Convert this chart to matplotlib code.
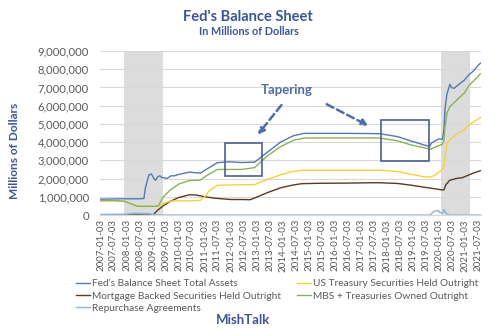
import pandas as pd
import matplotlib
matplotlib.use("Agg")
import matplotlib.pyplot as plt
import matplotlib.dates as mdates
from matplotlib.patches import Rectangle
from matplotlib.ticker import FuncFormatter, MultipleLocator

plt.rcParams['font.family'] = ['Lato', 'DejaVu Sans']

# Weekly H.4.1 series, sampled at turning points (millions of dollars)
total_dates = ["2007-01-03", "2007-07-04", "2007-12-05", "2008-06-04", "2008-09-03", "2008-09-24",
               "2008-10-15", "2008-11-12", "2008-12-17", "2009-01-14", "2009-02-11", "2009-03-18",
               "2009-04-15", "2009-05-13", "2009-06-17", "2009-07-15", "2009-08-12", "2009-09-16",
               "2009-11-04", "2010-01-06", "2010-06-02", "2010-11-03", "2011-01-05", "2011-06-29",
               "2011-12-07", "2012-06-06", "2012-12-05", "2013-06-05", "2013-12-04", "2014-06-04",
               "2014-10-29", "2015-06-03", "2016-06-01", "2017-06-07", "2017-10-04", "2018-06-06",
               "2018-12-05", "2019-06-05", "2019-08-28", "2019-09-25", "2019-12-31", "2020-02-26",
               "2020-03-18", "2020-04-01", "2020-04-29", "2020-06-10", "2020-07-01", "2020-08-05",
               "2020-10-07", "2020-12-30", "2021-03-03", "2021-05-05", "2021-07-07", "2021-08-11"]
total_assets = [870000, 880000, 890000, 890000, 905000, 1500000,
                1800000, 2200000, 2250000, 2050000, 1900000, 2100000,
                2150000, 2050000, 2050000, 2000000, 2050000, 2150000,
                2150000, 2230000, 2350000, 2300000, 2450000, 2870000,
                2920000, 2880000, 2900000, 3450000, 4000000, 4350000,
                4480000, 4480000, 4480000, 4470000, 4460000, 4300000,
                4070000, 3850000, 3760000, 3950000, 4170000, 4160000,
                4700000, 5800000, 6650000, 7170000, 7000000, 6950000,
                7150000, 7400000, 7700000, 7900000, 8200000, 8330000]

treasury_dates = ["2007-01-03", "2007-07-04", "2007-12-05", "2008-03-05", "2008-06-04", "2009-02-04",
                  "2009-03-25", "2009-06-03", "2009-09-02", "2009-11-04", "2010-06-02", "2010-11-03",
                  "2011-01-05", "2011-03-02", "2011-06-29", "2012-06-06", "2012-12-05", "2013-06-05",
                  "2013-12-04", "2014-06-04", "2014-10-29", "2016-06-01", "2017-10-04", "2018-06-06",
                  "2018-12-05", "2019-06-05", "2019-08-28", "2019-10-30", "2019-12-31", "2020-02-26",
                  "2020-03-18", "2020-04-01", "2020-04-29", "2020-06-10", "2020-08-05", "2020-10-07",
                  "2020-12-30", "2021-03-03", "2021-05-05", "2021-07-07", "2021-08-11"]
treasuries = [780000, 790000, 755000, 620000, 480000, 475000,
              500000, 630000, 760000, 775000, 777000, 800000,
              1000000, 1300000, 1630000, 1660000, 1670000, 1950000,
              2210000, 2400000, 2460000, 2460000, 2460000, 2380000,
              2240000, 2100000, 2080000, 2150000, 2330000, 2480000,
              2700000, 3200000, 3900000, 4150000, 4300000, 4500000,
              4690000, 4950000, 5100000, 5250000, 5350000]

mbs_dates = ["2007-01-03", "2009-01-07", "2009-01-14", "2009-03-04", "2009-06-03", "2009-09-02",
             "2010-01-06", "2010-06-02", "2010-09-01", "2011-01-05", "2011-06-01", "2012-01-04",
             "2012-06-06", "2012-10-03", "2012-12-05", "2013-06-05", "2013-12-04", "2014-06-04",
             "2014-10-01", "2015-06-03", "2016-06-01", "2017-06-07", "2017-10-04", "2018-06-06",
             "2018-12-05", "2019-06-05", "2019-12-31", "2020-02-26", "2020-03-18", "2020-04-15",
             "2020-05-06", "2020-06-03", "2020-09-02", "2020-12-02", "2021-03-03", "2021-05-05",
             "2021-08-11"]
mbs = [0, 0, 10000, 230000, 510000, 740000,
       960000, 1110000, 1100000, 1000000, 920000, 850000,
       850000, 840000, 930000, 1230000, 1490000, 1650000,
       1720000, 1740000, 1750000, 1770000, 1770000, 1730000,
       1640000, 1530000, 1410000, 1370000, 1380000, 1680000,
       1750000, 1900000, 2000000, 2050000, 2200000, 2300000,
       2430000]

combined_dates = ["2007-01-03", "2007-07-04", "2007-12-05", "2008-03-05", "2008-06-04", "2008-12-03",
                  "2009-02-04", "2009-03-25", "2009-06-03", "2009-09-02", "2010-01-06", "2010-06-02",
                  "2010-11-03", "2011-01-05", "2011-06-29", "2011-12-07", "2012-06-06", "2012-12-05",
                  "2013-06-05", "2013-12-04", "2014-06-04", "2014-10-29", "2015-06-03", "2016-06-01",
                  "2017-06-07", "2017-10-04", "2018-06-06", "2018-12-05", "2019-06-05", "2019-09-04",
                  "2019-12-31", "2020-02-26", "2020-03-18", "2020-04-01", "2020-04-29", "2020-06-10",
                  "2020-08-05", "2020-10-07", "2020-12-30", "2021-03-03", "2021-05-05", "2021-07-07",
                  "2021-08-11"]
mbs_plus_treasuries = [780000, 790000, 755000, 620000, 480000, 475000,
                       475000, 500000, 1000000, 1350000, 1700000, 1890000,
                       1910000, 2100000, 2500000, 2500000, 2500000, 2600000,
                       3250000, 3750000, 4100000, 4220000, 4230000, 4230000,
                       4230000, 4220000, 4070000, 3850000, 3700000, 3600000,
                       3800000, 3880000, 4100000, 4800000, 5600000, 5950000,
                       6150000, 6400000, 6700000, 7100000, 7350000, 7600000,
                       7750000]

repo_dates = ["2007-01-03", "2007-08-01", "2007-12-05", "2008-03-05", "2008-05-07", "2008-09-03",
              "2008-12-03", "2009-01-07", "2009-03-04", "2019-09-11", "2019-09-25", "2019-10-30",
              "2019-12-31", "2020-01-15", "2020-02-26", "2020-03-18", "2020-03-25", "2020-04-15",
              "2020-05-06", "2020-06-03", "2021-08-11"]
repo = [30000, 40000, 45000, 80000, 100000, 80000,
        70000, 25000, 0, 0, 80000, 200000,
        250000, 150000, 100000, 300000, 200000, 100000,
        50000, 0, 0]

# Recession shading
recession_starts = ["2007-12-01", "2020-02-05"]
recession_ends = ["2009-06-01", "2021-03-20"]

tick_labels = [d.strftime("%Y-%m-%d") for d in
               pd.date_range("2007-01-03", periods=30, freq=pd.DateOffset(months=6))]

TITLE_BLUE = "#3b5694"
GRID = "#d9d9d9"
TEXT = "#595959"

fig = plt.figure(figsize=(5.0, 3.32), dpi=100)
ax = fig.add_axes([0.2, 0.3524, 0.762, 0.494])

for s, e in zip(recession_starts, recession_ends):
    ax.axvspan(pd.Timestamp(s), pd.Timestamp(e), color="#dcdcdc", lw=0, zorder=0)

d = pd.to_datetime
ax.plot(d(total_dates), total_assets, color="#5577b5", lw=1.0, label="Fed's Balance Sheet Total Assets")
ax.plot(d(mbs_dates), mbs, color="#5c3a1e", lw=1.0, label="Mortgage Backed Securities Held Outright")
ax.plot(d(repo_dates), repo, color="#8db3e2", lw=1.0, label="Repurchase Agreements")
ax.plot(d(treasury_dates), treasuries, color="#f5d23c", lw=1.0, label="US Treasury Securities Held Outright")
ax.plot(d(combined_dates), mbs_plus_treasuries, color="#8ab15a", lw=1.0, label="MBS + Treasuries Owned Outright")

ax.set_ylim(0, 9000000)
ax.set_xlim(pd.Timestamp("2006-12-26"), pd.Timestamp("2021-08-20"))
ax.yaxis.set_major_locator(MultipleLocator(1000000))
ax.yaxis.set_major_formatter(FuncFormatter(lambda v, p: f"{int(v):,}"))
ax.grid(axis="y", color=GRID, lw=0.8, zorder=0)
ax.set_axisbelow(True)
for side in ["top", "right", "left"]:
    ax.spines[side].set_visible(False)
ax.spines["bottom"].set_color(GRID)

tick_pos = pd.to_datetime(tick_labels)
ax.set_xticks(tick_pos)
ax.set_xticklabels(tick_labels, rotation=90, fontsize=7.0, color=TEXT)
ax.tick_params(axis="x", length=0, pad=3)
ax.tick_params(axis="y", length=0, labelsize=8.1, labelcolor=TEXT, pad=8)

# Tapering boxes and arrows
box_color = "#4a5f90"
ax.add_patch(Rectangle((mdates.date2num(pd.Timestamp("2011-10-15")), 2140000),
                       mdates.date2num(pd.Timestamp("2013-03-20")) - mdates.date2num(pd.Timestamp("2011-10-15")),
                       1820000, fill=False, ec=box_color, lw=1.2, zorder=5))
ax.add_patch(Rectangle((mdates.date2num(pd.Timestamp("2017-10-10")), 2970000),
                       mdates.date2num(pd.Timestamp("2019-08-15")) - mdates.date2num(pd.Timestamp("2017-10-10")),
                       2250000, fill=False, ec=box_color, lw=1.2, zorder=5))

ax.text(pd.Timestamp("2014-03-01"), 6870000, "Tapering", color="#4f6ea8", fontsize=9.5,
        fontweight="bold", ha="center", va="center")
arrow = dict(arrowstyle="-|>", linestyle=(0, (3, 1.6)), lw=1.8, color="#4f6ea8", mutation_scale=9)
ax.annotate("", xy=(pd.Timestamp("2012-12-25"), 4290000), xytext=(pd.Timestamp("2014-01-10"), 6150000),
            arrowprops=arrow)
ax.annotate("", xy=(pd.Timestamp("2017-05-25"), 4830000), xytext=(pd.Timestamp("2015-08-10"), 6150000),
            arrowprops=arrow)

fig.text(0.496, 0.949, "Fed's Balance Sheet", ha="center", va="center", fontsize=10.5,
         fontweight="bold", color=TITLE_BLUE)
fig.text(0.498, 0.905, "In Millions of Dollars", ha="center", va="center", fontsize=7.8,
         fontweight="bold", color=TITLE_BLUE)
fig.text(0.03, 0.545, "Millions of Dollars", rotation=90, ha="center", va="center", fontsize=8.6,
         fontweight="bold", color=TITLE_BLUE)
fig.text(0.487, 0.036, "MishTalk", ha="center", va="center", fontsize=9.5,
         fontweight="bold", color=TITLE_BLUE)

leg = ax.legend(loc="upper left", bbox_to_anchor=(0.142, 0.174), bbox_transform=fig.transFigure,
                ncol=2, frameon=False, fontsize=7.3, handlelength=1.4, handletextpad=0.15,
                columnspacing=1.6, labelspacing=0.3, borderpad=0)
for t in leg.get_texts():
    t.set_color(TEXT)

fig.savefig("out.png", dpi=100)
